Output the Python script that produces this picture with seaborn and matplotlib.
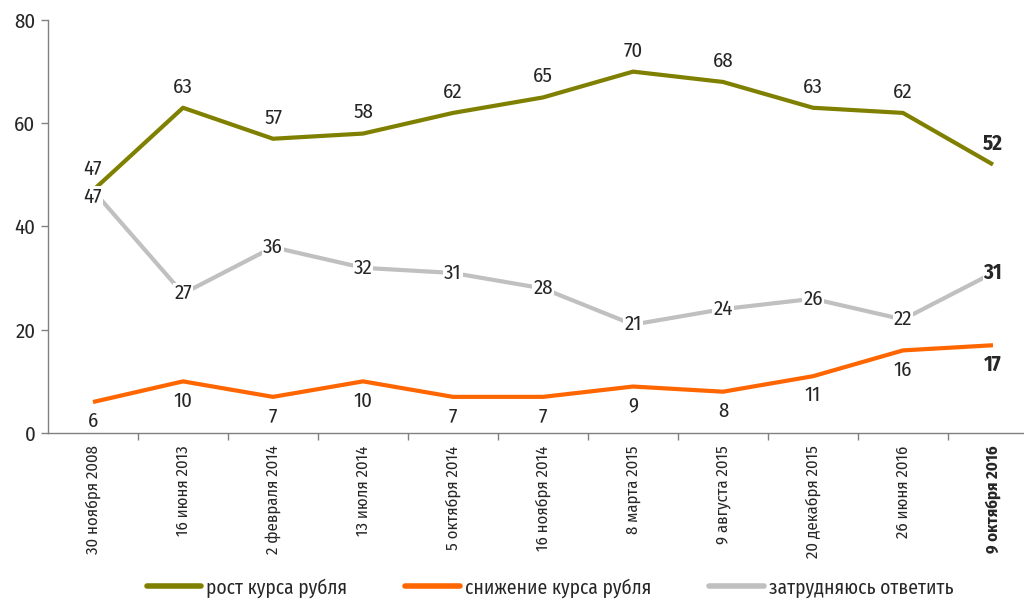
import numpy as np
import pandas as pd
import matplotlib
matplotlib.use('Agg')
import matplotlib.pyplot as plt
from matplotlib.ticker import FixedLocator
import seaborn as sns

dates = ['30 ноября 2008', '16 июня 2013', '2 февраля 2014', '13 июля 2014',
         '5 октября 2014', '16 ноября 2014', '8 марта 2015', '9 августа 2015',
         '20 декабря 2015', '26 июня 2016', '9 октября 2016']
rost = [47, 63, 57, 58, 62, 65, 70, 68, 63, 62, 52]
snizhenie = [6, 10, 7, 10, 7, 7, 9, 8, 11, 16, 17]
zatrudn = [47, 27, 36, 32, 31, 28, 21, 24, 26, 22, 31]

series_names = ['рост курса рубля', 'снижение курса рубля', 'затрудняюсь ответить']
colors = ['#808000', '#FF6600', '#C0C0C0']

sns.set_style('white')
plt.rcParams['font.family'] = ['Fira Sans Condensed', 'PT Sans Narrow', 'Roboto Condensed',
                               'Liberation Sans Narrow', 'DejaVu Sans']

rows = []
for name, vals in zip(series_names, [rost, snizhenie, zatrudn]):
    for i, v in enumerate(vals):
        rows.append({'pos': i, 'date': dates[i], 'value': v, 'series': name})
df = pd.DataFrame(rows)

fig = plt.figure(figsize=(10.24, 6), dpi=100)
ax = fig.add_axes([48 / 1024, 167 / 600, 990 / 1024, 413 / 600])

sns.lineplot(data=df, x='pos', y='value', hue='series', hue_order=series_names,
             palette=colors, linewidth=3, sort=False, legend=False, ax=ax,
             solid_capstyle='butt')
# серая линия под остальными
ax.lines[2].set_zorder(1)

ax.set_xlim(-0.5, len(dates) - 0.5)
ax.set_ylim(0, 80)
ax.set_yticks([0, 20, 40, 60, 80])
ax.set_xticks(range(len(dates)))
ax.set_xticklabels(dates, rotation=90, fontsize=12)
ax.get_xticklabels()[-1].set_fontweight('bold')
ax.xaxis.set_minor_locator(FixedLocator(np.arange(0.5, len(dates) - 0.5, 1)))
ax.tick_params(axis='x', which='major', length=0, pad=9)
ax.tick_params(axis='x', which='minor', length=5, width=1, color='#808080', direction='out', bottom=True)
ax.tick_params(axis='y', length=5, width=1, color='#808080', direction='out', left=True, labelsize=15, pad=4)
ax.set_xlabel('')
ax.set_ylabel('')

sns.despine(ax=ax)
for s in ['left', 'bottom']:
    ax.spines[s].set_color('#808080')
    ax.spines[s].set_linewidth(1)

last = len(dates) - 1
for i, v in enumerate(rost):
    ax.annotate(str(v), (i, v), xytext=(0, 15), textcoords='offset points',
                ha='center', va='center', fontsize=15,
                fontweight='bold' if i == last else 'normal')
for i, v in enumerate(snizhenie):
    ax.annotate(str(v), (i, v), xytext=(0, -14), textcoords='offset points',
                ha='center', va='center', fontsize=15,
                fontweight='bold' if i == last else 'normal')
for i, v in enumerate(zatrudn):
    ax.annotate(str(v), (i, v), xytext=(0, -5 if i == 0 else 0), textcoords='offset points',
                ha='center', va='center', fontsize=15, zorder=2,
                fontweight='bold' if i == last else 'normal',
                bbox=dict(boxstyle='square,pad=0.05', fc='white', ec='none'))

handles = [plt.Line2D([], [], color=c, linewidth=4) for c in colors]
fig.legend(handles, series_names, loc='lower center', bbox_to_anchor=(0.537, -0.025),
           ncol=3, frameon=False, fontsize=14, handlelength=2.8, handletextpad=0.25,
           columnspacing=3.0)

fig.savefig('out.png', dpi=100)
